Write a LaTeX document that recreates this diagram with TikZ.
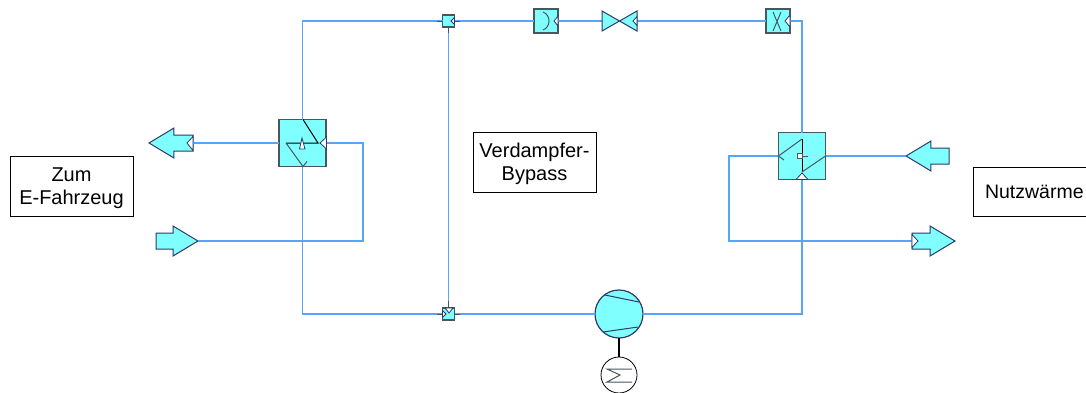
\documentclass[tikz,border=0pt]{standalone}
\usepackage{fontspec}
\setmainfont{Liberation Sans}
\usetikzlibrary{shapes.arrows,calc}
\definecolor{pipe}{HTML}{55A5F8}
\definecolor{cy}{HTML}{80FFFF}
\definecolor{edge}{HTML}{4A5560}
\definecolor{navy}{HTML}{2A3A6A}
\tikzset{
  pipeline/.style={draw=pipe,line width=1.4pt},
  comp/.style={draw=edge,fill=cy,line width=1.1pt,minimum size=#1,inner sep=0pt,outer sep=0pt},
  inner/.style={draw=edge,line width=1pt},
  portw/.style={draw=navy,fill=white,line width=.8pt},
  stub/.style={draw=edge,line width=1pt},
  bigarrow/.style={single arrow,draw=navy,fill=cy,line width=1pt,minimum height=#1,minimum width=29pt,
    inner xsep=0pt,inner ysep=7.5pt,single arrow head extend=7pt,single arrow tip angle=62,outer sep=0pt,anchor=tip},
  label/.style={draw=black,fill=white,line width=.7pt,align=center,font=\fontsize{20}{23}\selectfont,inner sep=0pt},
  round/.style={circle,draw=navy,fill=cy,line width=1.2pt,minimum size=48pt,inner sep=0pt,outer sep=0pt}
}
\begin{document}
\begin{tikzpicture}[x=1pt,y=-1pt]
\useasboundingbox (0,0) rectangle (1086,392);
% components
\node[comp=47pt] (hxL) at (302.5,143) {};
\node[comp=47pt] (hxR) at (802,156) {};
\node[comp=12pt] (teeT) at (448.5,21) {};
\node[comp=12pt] (teeB) at (448.5,314) {};
\node[comp=24pt] (valA) at (546,21) {};
\node[comp=24pt] (valX) at (778,21) {};
\node[round] (pump) at (619,314) {};
\node[circle,draw=black,fill=white,line width=.8pt,minimum size=36pt,inner sep=0pt,outer sep=0pt] (motor) at (619,375) {};
\node[inner sep=0pt,outer sep=0pt,minimum width=35pt,minimum height=20pt] (exp) at (619.5,21) {};
\node[bigarrow=44pt,shape border rotate=180] (arLT) at (149,143) {};
\node[bigarrow=42pt] (arLB) at (198,241) {};
\node[bigarrow=43pt,shape border rotate=180] (arRT) at (906,156) {};
\node[bigarrow=43pt] (arRB) at (955,241) {};
\node[label,minimum width=123pt,minimum height=60pt] (zum) at (71.5,186) {\rule{0pt}{18.5pt}Zum\\E-Fahrzeug};
\node[label,minimum width=123pt,minimum height=60pt] (byp) at (534.5,162) {\rule{0pt}{18.5pt}Verdampfer-\\Bypass};
\node[label,minimum width=123pt,minimum height=49pt,text width=99pt,align=left,font=\fontsize{19.5}{23}\selectfont] (nutz) at (1034.5,191.5) {Nutzwärme};
\coordinate (cTL) at (302.5,21);
\coordinate (cBL) at (302.5,314);
\coordinate (cTR) at (802,21);
\coordinate (cBR) at (802,314);
\coordinate (cLa) at (363,143);
\coordinate (cLb) at (363,241);
\coordinate (cRa) at (729,156);
\coordinate (cRb) at (729,241);
% connectors
\draw[pipeline] (teeT.west) -- (cTL) -- (hxL.north);
\draw[pipeline] (hxL.south) -- (cBL) -- (teeB.west);
\draw[pipeline] (teeT.east) -- (valA.west);
\draw[pipeline] (valA.east) -- (exp.west);
\draw[pipeline] (exp.east) -- (valX.west);
\draw[pipeline] (valX.east) -- (cTR) -- (hxR.north);
\draw[pipeline] (hxR.south) -- (cBR) -- (pump.east);
\draw[pipeline] (teeB.east) -- (pump.west);
\draw[pipeline] (teeT.south) -- (teeB.north);
\draw[pipeline] (arLT.tail) -- (hxL.west);
\draw[pipeline] (hxL.east) -- (cLa) -- (cLb) -- (arLB.tip);
\draw[pipeline] (arRT.tip) -- (hxR.east);
\draw[pipeline] (hxR.west) -- (cRa) -- (cRb) -- (arRB.tail);
\draw[black,line width=1.6pt] (pump.south) -- (motor.north);
% stubs
\draw[stub] (437,21) -- (teeT.west) (teeT.east) -- (460,21) (teeT.south) -- (448.5,33);
\draw[stub] (437,314) -- (teeB.west) (teeB.east) -- (460,314) (teeB.north) -- (448.5,301);
% left exchanger internals
\draw[inner,black] (303,119.5) -- (318,143) -- (286,143);
\draw[inner] (286,143) -- (303,166.5) -- (307,161.5);
\draw[portw] (302,138) -- (305,149) -- (299.5,149) -- cycle;
\draw[portw] (320,143) -- (326.5,137) -- (326.5,149) -- cycle;
% right exchanger internals
\draw[inner] (784,160) -- (778.5,156) -- (802,139);
\draw[inner,black] (802,139) -- (802,172);
\draw[inner] (802,172) -- (825.5,156);
\draw[portw,draw=edge] (797,153.5) rectangle (802,158.5);
\draw[inner] (802,156) -- (808,156);
\draw[portw] (802,173) -- (808,179.5) -- (796,179.5) -- cycle;
% valve A
\draw[inner] (543,12) .. controls (551,15) and (551,27) .. (543,30);
\draw[portw] (554,21) -- (558,16) -- (558,26) -- cycle;
% expansion valve
\draw[draw=navy,fill=cy,line width=1pt] (602,11) -- (637,31) -- (637,11) -- (602,31) -- cycle;
\draw[portw] (633,21) -- (637,16.5) -- (637,25.5) -- cycle;
% valve X
\draw[inner] (773,12) -- (781,31) (781,12) -- (773,31);
\draw[portw] (785,21) -- (790,15) -- (790,27) -- cycle;
% tee ports
\draw[portw] (451,21) -- (454.5,17.5) -- (454.5,24.5) -- cycle;
\draw[portw] (446,314) -- (442.5,310.5) -- (442.5,317.5) -- cycle;
\draw[portw] (449,313) -- (445,308) -- (453,308) -- cycle;
% arrow ports
\draw[portw] (187,143) -- (193,136.5) -- (193,150.5) -- cycle;
\draw[portw] (918,241) -- (912,234.5) -- (912,247.5) -- cycle;
% pump and motor
\draw[draw=navy,line width=1pt] (605,295) -- (639,302) (603,332) -- (638,327);
\draw[draw=edge,line width=1pt] (632,369) -- (607,369) -- (620,375) -- (607,382) -- (632,382);
\end{tikzpicture}
\end{document}
